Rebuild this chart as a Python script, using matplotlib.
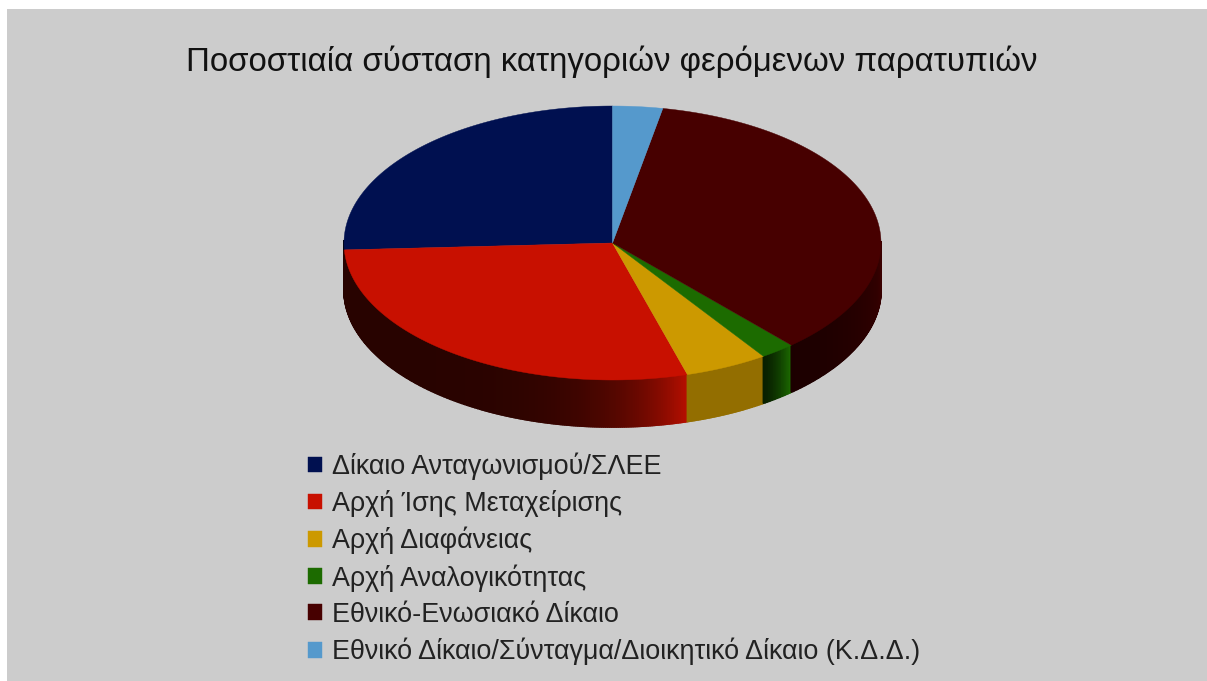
import numpy as np
from matplotlib import pyplot as plt
from matplotlib.colors import to_rgb

plt.rcParams['font.family'] = ['Liberation Sans', 'DejaVu Sans']

title = "Ποσοστιαία σύσταση κατηγοριών φερόμενων παρατυπιών"
labels = ["Δίκαιο Ανταγωνισμού/ΣΛΕΕ",
          "Αρχή Ίσης Μεταχείρισης",
          "Αρχή Διαφάνειας",
          "Αρχή Αναλογικότητας",
          "Εθνικό-Ενωσιακό Δίκαιο",
          "Εθνικό Δίκαιο/Σύνταγμα/Διοικητικό Δίκαιο (Κ.Δ.Δ.)"]
values = [25.8, 28.7, 5.0, 2.1, 35.4, 3.0]
colors = ["#001050", "#c81000", "#cc9900", "#1c6b00", "#470000", "#5599cc"]

# brightness of the side wall at the left and right end of each slice
side_left = [0.2, 0.2, 0.72, 0.3, 0.4, 0.5]
side_right = [0.2, 0.9, 0.72, 0.95, 0.8, 0.5]
side_power = [1, 7, 1, 1.5, 1.5, 1]

W, H = 1207, 681
fig = plt.figure(figsize=(W/100, H/100), dpi=100, facecolor="white")

# grey panel, pixel coordinates with y going down
ax = fig.add_axes([7/W, 0, 1 - 7/W, 1 - 9/H])
ax.set_facecolor("#cccccc")
ax.set_xlim(7, W)
ax.set_ylim(H, 9)
ax.set_xticks([])
ax.set_yticks([])
for s in ax.spines.values():
    s.set_visible(False)

cx, cy = 612.5, 243
rx, ry = 268.5, 137
depth = 47

frac = np.array(values) / sum(values)
edges = np.concatenate([[0], np.cumsum(frac)]) * 2 * np.pi

# slices run anticlockwise from the top
def rim(t):
    return cx - rx*np.sin(t), cy - ry*np.cos(t)

# side wall, only the front half of the rim is visible
for i in range(len(values)):
    ts = np.linspace(edges[i], edges[i+1], max(int(frac[i]*900), 2))
    ts = ts[np.cos(ts) <= 0.02]
    if len(ts) < 2:
        continue
    base = np.array(to_rgb(colors[i]))
    for k in range(len(ts) - 1):
        pos = k / max(len(ts) - 2, 1)
        shade = side_left[i] + (side_right[i] - side_left[i])*pos**side_power[i]
        x0, y0 = rim(ts[k])
        x1, y1 = rim(ts[k+1])
        ax.fill([x0, x1, x1, x0], [y0, y1, y1 + depth, y0 + depth],
                color=tuple(base*shade), lw=1.2)

# top face
wedges = []
for i in range(len(values)):
    ts = np.linspace(edges[i], edges[i+1], 200)
    x, y = rim(ts)
    w = ax.fill(np.r_[cx, x], np.r_[cy, y], color=colors[i], lw=0.3)[0]
    wedges.append(w)

ax.text(612, 61.5, title, fontsize=23.75, color="#111111", ha="center", va="center")

leg = ax.legend(wedges, labels, loc="upper left", bbox_to_anchor=(308/W, 1 - 452.5/H),
                bbox_transform=fig.transFigure, frameon=False, fontsize=19.35,
                handlelength=0.52, handleheight=0.52, handletextpad=0.37,
                labelspacing=0.37, borderpad=0, borderaxespad=0)
for t in leg.get_texts():
    t.set_color("#222222")

fig.savefig("out.png", dpi=100)
